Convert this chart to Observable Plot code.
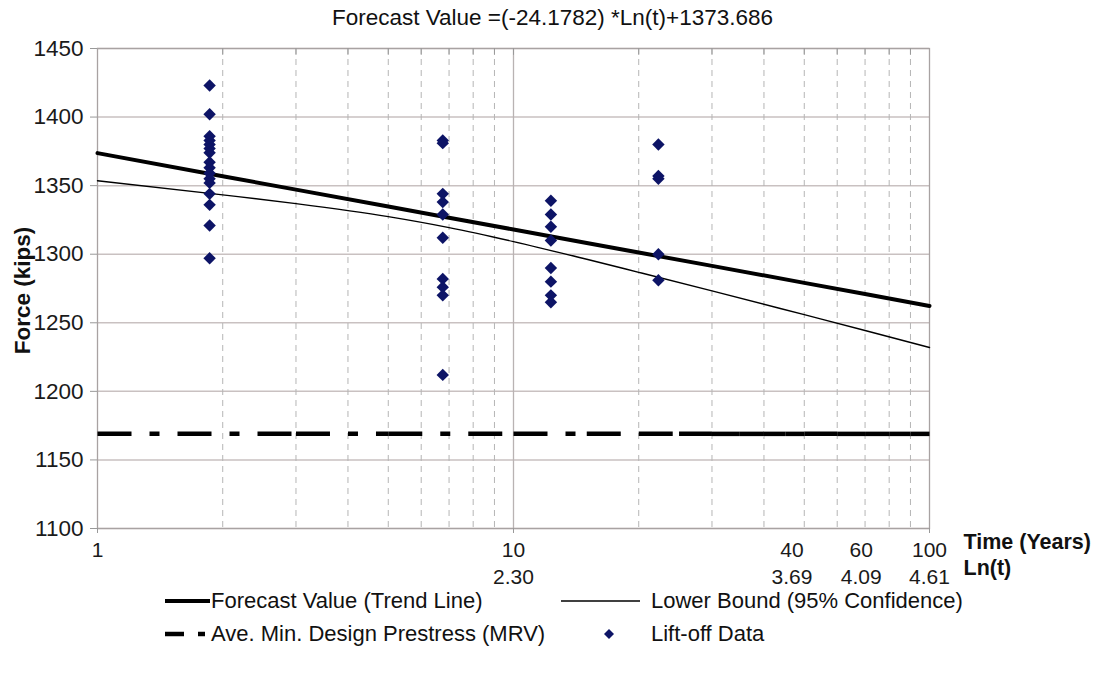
<!DOCTYPE html>
<html><head><meta charset="utf-8">
<script src="https://cdn.jsdelivr.net/npm/d3@7"></script>
<script src="https://cdn.jsdelivr.net/npm/@observablehq/plot@0.6"></script>
<style>
body{margin:0;background:#fff;font-family:"Liberation Sans",Arial,sans-serif;color:#111}
#wrap{position:relative;width:1105px;height:677px;overflow:hidden;background:#fff}
#title{position:absolute;left:0;width:1105px;top:6px;text-align:center;font-size:22.5px;line-height:24px}
#plot{position:absolute;left:0;top:0}
.lg{position:absolute;font-size:22px;line-height:18px;white-space:nowrap}
.sw{position:absolute}
</style></head><body>
<div id="wrap">
  <div id="plot"></div>
  <div id="title">Forecast Value =(-24.1782) *Ln(t)+1373.686</div>
  <div id="legend"></div>
</div>
<script>
// ---- data ----
const timeYears   = [1, 2, 3, 5, 7, 10, 15, 20, 30, 50, 70, 100];
const trendForce  = [1373.7, 1356.9, 1347.1, 1334.8, 1326.6, 1318.0, 1308.2, 1301.2, 1291.5, 1279.1, 1271.0, 1262.3];
const lowerForce  = [1353.6, 1343.3, 1336.9, 1327.4, 1319.4, 1309.2, 1296.3, 1286.8, 1273.3, 1255.9, 1244.4, 1232.0];
const mrvBreaks   = [1, 3, 5, 10, 15, 20, 25, 30, 35, 40, 45, 50, 60, 70, 80, 90, 100];
const mrvForce    = 1169;
const liftTimes   = [1.86, 6.76, 12.3, 22.3];
const liftForces  = [
  [1423, 1402, 1386, 1383, 1380, 1377, 1374, 1367, 1363, 1359, 1355, 1352, 1344, 1336, 1321, 1297],
  [1383, 1381, 1344, 1338, 1329, 1312, 1282, 1276, 1270, 1212],
  [1339, 1329, 1320, 1310, 1290, 1280, 1270, 1265],
  [1380, 1357, 1355, 1300, 1281]
];
const yTicks      = [1100, 1150, 1200, 1250, 1300, 1350, 1400, 1450];
const xTickValues = [1, 10, 40, 60, 100];
const lnLabels    = ["", "2.30", "3.69", "4.09", "4.61"];
const minorTimes  = [2, 3, 4, 5, 6, 7, 8, 9, 20, 30, 40, 50, 60, 70, 80, 90];
const majorTimes  = [1, 10, 100];

// ---- tables built from the arrays ----
const trend = timeYears.map((t, i) => ({t, f: trendForce[i]}));
const lower = timeYears.map((t, i) => ({t, f: lowerForce[i]}));
const mrv = d3.pairs(mrvBreaks).map(([a, b]) => ({t1: a, t2: b, f: mrvForce}));
const lift = liftTimes.flatMap((t, i) => liftForces[i].map(f => ({t, f})));
const labelMap = new Map(xTickValues.map((v, i) => [v, lnLabels[i] ? `${v}\n${lnLabels[i]}` : `${v}`]));
const yTop = d3.max(yTicks);
const topTicks = minorTimes.concat([10]);
const [t40, t60] = [xTickValues[2], xTickValues[3]];
const xLabelsMain = xTickValues.filter(v => v !== t40 && v !== t60);

const labelOpts = {x: d => d, text: d => labelMap.get(d), frameAnchor: "bottom", lineAnchor: "top", dy: 9, fontSize: 21, lineHeight: 1.3, fill: "#1a1a1a"};

const chart = Plot.plot({
  width: 1105, height: 600,
  marginLeft: 97, marginRight: 176, marginTop: 48, marginBottom: 72,
  style: {fontFamily: "'Liberation Sans', Arial, sans-serif", fontSize: "22.5px", color: "#111", background: "white", overflow: "visible"},
  x: {type: "log", domain: [1, 100]},
  y: {domain: [1100, 1450]},
  marks: [
    Plot.ruleY(yTicks, {stroke: "#c9c1c1", strokeWidth: 1.5}),
    Plot.ruleX(minorTimes, {stroke: "#b5b5b5", strokeWidth: 1, strokeDasharray: "6,5"}),
    Plot.ruleX([10], {stroke: "#b9b3b3", strokeWidth: 1.3}),
    Plot.frame({stroke: "#a8a2a2", strokeWidth: 1.3}),
    Plot.ruleX(topTicks, {x: d => d, y1: yTop, y2: yTop - 5, stroke: "#999", strokeWidth: 1}),
    Plot.axisY({ticks: yTicks, tickSize: 7, tickPadding: 7, tickFormat: d => `${d}`, label: null, stroke: "#999", fill: "#1a1a1a"}),
    Plot.axisX({ticks: majorTimes, tickSize: 5, tickFormat: () => "", label: null, stroke: "#999"}),
    Plot.text(xLabelsMain, labelOpts),
    Plot.text([t40], {...labelOpts, dx: 28}),
    Plot.text([t60], {...labelOpts, dx: 24}),
    Plot.link(mrv, {x1: "t1", x2: "t2", y1: "f", y2: "f", stroke: "#000", strokeWidth: 4.5, strokeDasharray: "34,18,10,18"}),
    Plot.line(lower, {x: "t", y: "f", stroke: "#000", strokeWidth: 1.4, curve: "monotone-x"}),
    Plot.line(trend, {x: "t", y: "f", stroke: "#000", strokeWidth: 4}),
    Plot.dot(lift, {x: "t", y: "f", symbol: "diamond2", r: 5.6, fill: "#0d1466", stroke: "none"}),
    Plot.text(["Force (kips)"], {frameAnchor: "left", textAnchor: "middle", rotate: -90, dx: -75, dy: 2, fontWeight: "bold", fill: "#111"}),
    Plot.text(["Time (Years)"], {frameAnchor: "bottom-right", textAnchor: "start", dx: 34, dy: 20, fontSize: 21.5, fontWeight: "bold", fill: "#111"}),
    Plot.text(["Ln(t)"], {frameAnchor: "bottom-right", textAnchor: "start", dx: 34, dy: 46, fontSize: 21.5, fontWeight: "bold", fill: "#111"})
  ]
});
document.getElementById("plot").appendChild(chart);

// ---- legend ----
const legendItems = [
  {label: "Forecast Value (Trend Line)", kind: "thick", sx: 165, tx: 211, y: 601},
  {label: "Lower Bound (95% Confidence)", kind: "thin", sx: 561, tx: 651, y: 601},
  {label: "Ave. Min. Design Prestress (MRV)", kind: "mrv", sx: 165, tx: 211, y: 634},
  {label: "Lift-off Data", kind: "dot", sx: 600, tx: 651, y: 634}
];
const lg = d3.select("#legend");
for (const it of legendItems) {
  const w = it.tx - it.sx;
  const svg = lg.append("svg").attr("class", "sw").attr("width", w).attr("height", 16)
    .style("left", it.sx + "px").style("top", (it.y - 8) + "px");
  if (it.kind === "thick") svg.append("line").attr("x1", 0).attr("x2", w - 1).attr("y1", 8).attr("y2", 8).attr("stroke", "#000").attr("stroke-width", 4);
  if (it.kind === "thin") svg.append("line").attr("x1", 0).attr("x2", w - 11).attr("y1", 8).attr("y2", 8).attr("stroke", "#000").attr("stroke-width", 1.4);
  if (it.kind === "mrv") {
    svg.append("line").attr("x1", 0).attr("x2", 19).attr("y1", 8).attr("y2", 8).attr("stroke", "#000").attr("stroke-width", 4.5);
    svg.append("line").attr("x1", 33).attr("x2", 40).attr("y1", 8).attr("y2", 8).attr("stroke", "#000").attr("stroke-width", 4.5);
  }
  if (it.kind === "dot") svg.append("path").attr("d", "M9,3L14,8L9,13L4,8Z").attr("fill", "#0d1466");
  lg.append("div").attr("class", "lg").style("left", it.tx + "px").style("top", (it.y - 9) + "px").text(it.label);
}
</script>
</body></html>
